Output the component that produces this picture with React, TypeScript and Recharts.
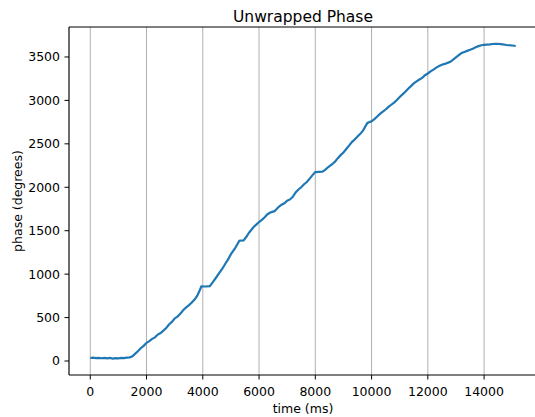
import React from "react";
import {
  LineChart,
  Line,
  XAxis,
  YAxis,
  CartesianGrid,
  ReferenceLine,
  Customized,
  Label,
} from "recharts";

// Sample times (ms) and unwrapped phase (degrees)
const timeMs: number[] = [
  0, 100, 200, 300, 400, 500, 600, 700, 800, 900, 1000, 1100, 1200, 1300, 1400,
  1500, 1600, 1700, 1800, 1900, 2000, 2100, 2200, 2300, 2400, 2500, 2600, 2700,
  2800, 2900, 3000, 3100, 3200, 3300, 3400, 3500, 3600, 3700, 3800, 3900, 3950,
  4100, 4250, 4350, 4450, 4600, 4700, 4800, 4900, 5000, 5150, 5300, 5450, 5550,
  5650, 5800, 5900, 6000, 6100, 6200, 6300, 6400, 6550, 6700, 6800, 6900, 7000,
  7100, 7200, 7300, 7400, 7500, 7600, 7700, 7800, 7900, 8000, 8250, 8350, 8450,
  8600, 8700, 8800, 8900, 9000, 9100, 9200, 9300, 9400, 9500, 9600, 9700, 9850,
  10000, 10100, 10200, 10300, 10400, 10500, 10600, 10700, 10800, 10900, 11000,
  11100, 11200, 11300, 11400, 11500, 11600, 11700, 11800, 11900, 12000, 12100,
  12200, 12300, 12400, 12500, 12600, 12700, 12800, 12900, 13000, 13100, 13200,
  13300, 13400, 13500, 13600, 13700, 13800, 13900, 14000, 14200, 14400, 14600,
  14800, 15000, 15125,
];

const phaseDeg: number[] = [
  35, 38, 33, 36, 32, 37, 30, 35, 28, 34, 31, 36, 33, 38, 42,
  55, 85, 115, 150, 175, 210, 228, 255, 272, 305, 322, 350, 380,
  420, 450, 490, 512, 545, 585, 615, 640, 670, 705, 750, 820, 860,
  858, 862, 905, 950, 1020, 1065, 1120, 1170, 1230, 1300, 1385, 1388, 1430,
  1480, 1540, 1570, 1600, 1625, 1655, 1690, 1710, 1725, 1775, 1800, 1815, 1845,
  1860, 1890, 1940, 1975, 2000, 2035, 2060, 2100, 2140, 2175, 2180, 2200, 2230,
  2265, 2295, 2335, 2370, 2400, 2440, 2480, 2520, 2550, 2585, 2615, 2655, 2740,
  2760, 2785, 2815, 2845, 2870, 2895, 2925, 2950, 2975, 3005, 3040,
  3070, 3100, 3135, 3165, 3195, 3220, 3240, 3260, 3290, 3310, 3335,
  3355, 3378, 3395, 3410, 3420, 3432, 3445, 3470, 3495, 3520, 3545,
  3558, 3570, 3582, 3595, 3612, 3625, 3635, 3640, 3645, 3652, 3648,
  3638, 3632, 3626,
];

const xTicks: number[] = [0, 2000, 4000, 6000, 8000, 10000, 12000, 14000];
const yTicks: number[] = [0, 500, 1000, 1500, 2000, 2500, 3000, 3500];

const xDomain: [number, number] = [-756, 15881];
const yDomain: [number, number] = [-161, 3845];

const data = timeMs.map((t, i) => ({ t, phase: phaseDeg[i] }));

const FONT = "'DejaVu Sans', sans-serif";

const Title = () => (
  <text
    x={303}
    y={21.5}
    textAnchor="middle"
    fontFamily={FONT}
    fontSize={15.5}
    fill="#000"
  >
    Unwrapped Phase
  </text>
);

const YLabel = () => (
  <text
    x={17}
    y={201}
    transform="rotate(-90 17 201)"
    textAnchor="middle"
    dominantBaseline="central"
    fontFamily={FONT}
    fontSize={12.5}
    fill="#000"
  >
    phase (degrees)
  </text>
);

export default function App() {
  return (
    <div
      style={{
        position: "absolute",
        left: 0,
        top: 0,
        width: 535,
        height: 417,
        overflow: "hidden",
        background: "#fff",
      }}
    >
      <LineChart
        width={560}
        height={417}
        data={data}
        margin={{ top: 27, right: 23, bottom: 12, left: 9 }}
      >
        <CartesianGrid
          horizontal={false}
          vertical={true}
          stroke="#b0b0b0"
          strokeWidth={1}
        />
        <XAxis
          dataKey="t"
          type="number"
          domain={xDomain}
          ticks={xTicks}
          allowDataOverflow
          height={30}
          tickSize={4.5}
          tickMargin={7.5}
          axisLine={{ stroke: "#000", strokeWidth: 1 }}
          tickLine={{ stroke: "#000", strokeWidth: 1 }}
          tick={{ fill: "#000", fontFamily: FONT, fontSize: 12.5 }}
          interval={0}
        >
          <Label
            content={() => (
              <text
                x={303}
                y={413}
                textAnchor="middle"
                fontFamily={FONT}
                fontSize={12.5}
                fill="#000"
              >
                time (ms)
              </text>
            )}
          />
        </XAxis>
        <YAxis
          type="number"
          domain={yDomain}
          ticks={yTicks}
          allowDataOverflow
          width={60}
          tickSize={4.5}
          tickMargin={4.5}
          axisLine={{ stroke: "#000", strokeWidth: 1 }}
          tickLine={{ stroke: "#000", strokeWidth: 1 }}
          tick={{ fill: "#000", fontFamily: FONT, fontSize: 12.5 }}
          interval={0}
        />
        <ReferenceLine y={yDomain[1]} stroke="#000" strokeWidth={1} />
        <Line
          type="linear"
          dataKey="phase"
          stroke="#1f77b4"
          strokeWidth={2.2}
          dot={false}
          isAnimationActive={false}
        />
        <Customized component={Title} />
        <Customized component={YLabel} />
      </LineChart>
    </div>
  );
}
